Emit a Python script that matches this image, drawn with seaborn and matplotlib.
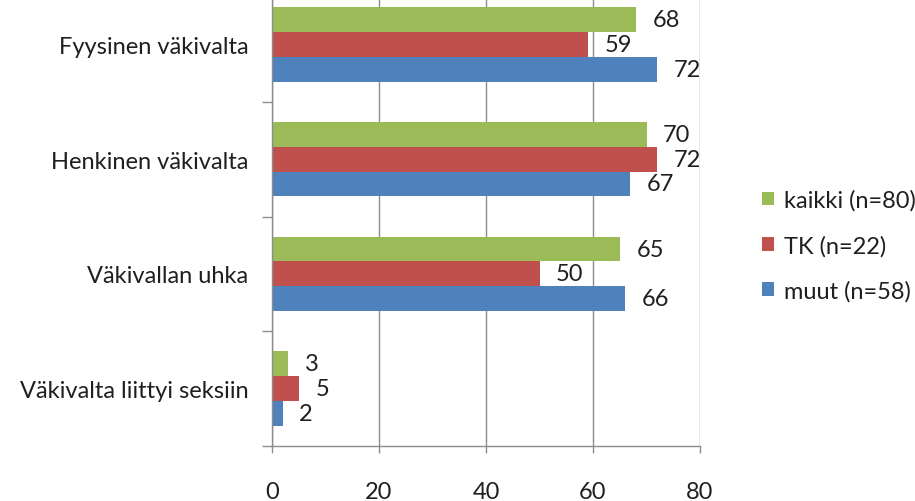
import pandas as pd
import matplotlib.pyplot as plt
import matplotlib.ticker as mticker
import seaborn as sns

# Data
categories = ['Fyysinen väkivalta', 'Henkinen väkivalta', 'Väkivallan uhka', 'Väkivalta liittyi seksiin']
series = ['kaikki (n=80)', 'TK (n=22)', 'muut (n=58)']
kaikki = [68, 70, 65, 3]
tk = [59, 72, 50, 5]
muut = [72, 67, 66, 2]
colors = ['#9BBB59', '#C0504D', '#4F81BD']

data = pd.DataFrame({
    'Category': categories * 3,
    'Group': [series[0]] * 4 + [series[1]] * 4 + [series[2]] * 4,
    'Value': kaikki + tk + muut,
})

sns.set_style('white')
plt.rcParams['font.family'] = ['Lato', 'DejaVu Sans']
txt = '#1f1f1f'
grey = '#8c8c8c'
fs = 17

fig = plt.figure(figsize=(9.15, 5.02), dpi=100)
# top of the plot area is cut off by the image edge, like the original
ax = fig.add_axes([272 / 915, 55 / 502, (700 - 272) / 915, (447 + 12) / 502])

sns.barplot(data=data, y='Category', x='Value', hue='Group', order=categories,
            hue_order=series, palette=colors, orient='h', width=0.65,
            saturation=1, linewidth=0, ax=ax)

# Value labels
for cont in ax.containers:
    ax.bar_label(cont, padding=12, fontsize=fs, color=txt)

ax.set_xlim(0, 80)
ax.set_ylim(3.5, -0.5)
ax.set_xticks([0, 20, 40, 60, 80])
ax.xaxis.grid(True, color=grey, linewidth=1)
ax.set_axisbelow(True)
ax.set_xlabel('')
ax.set_ylabel('')

# Category boundary ticks like the original
ax.set_yticks([0, 1, 2, 3])
ax.yaxis.set_minor_locator(mticker.FixedLocator([0.5, 1.5, 2.5, 3.5]))
ax.tick_params(axis='y', which='major', length=0, pad=17, labelsize=fs, labelcolor=txt)
ax.tick_params(axis='y', which='minor', left=True, length=7, color=grey, width=1)
ax.tick_params(axis='x', which='major', bottom=True, length=5, color=grey, width=1,
               pad=20, labelsize=fs, labelcolor=txt)

for side in ['top', 'right']:
    ax.spines[side].set_visible(False)
for side in ['left', 'bottom']:
    ax.spines[side].set_color(grey)
    ax.spines[side].set_linewidth(1)

leg = ax.legend(loc='center left', bbox_to_anchor=(1.095, 0.437), frameon=False,
                fontsize=fs, handlelength=0.5, handleheight=0.5, labelspacing=1.0,
                handletextpad=0.45)
for t in leg.get_texts():
    t.set_color(txt)

fig.savefig('out.png', dpi=100)
